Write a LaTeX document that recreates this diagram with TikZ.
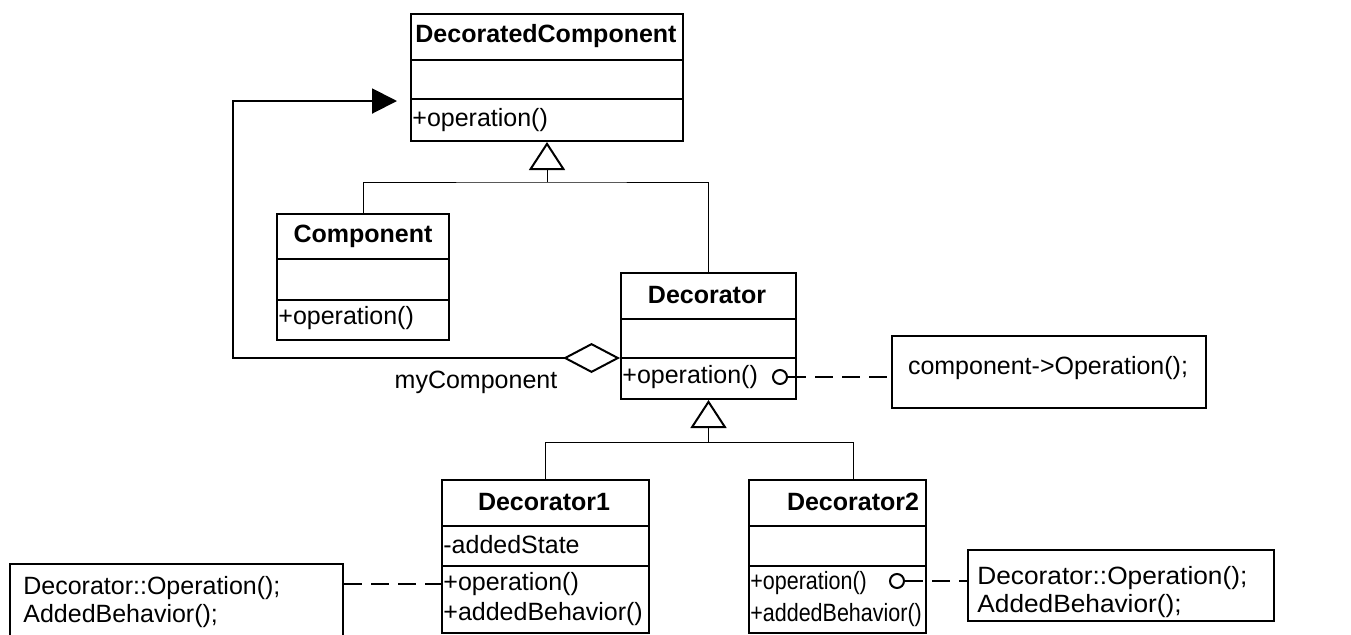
\documentclass[tikz,border=0pt]{standalone}
\usepackage{fontspec}
\setmainfont{Liberation Sans}
\usetikzlibrary{arrows.meta}

\begin{document}
\begin{tikzpicture}[x=0.5pt, y=-0.5pt,
        every node/.style={font=\fontsize{12.5}{15}\selectfont},
        classbox/.style={draw, line width=1pt, anchor=north west, inner sep=0pt},
        notebox/.style={draw, line width=1pt, anchor=north west, inner sep=0pt},
        title/.style={font=\fontsize{12.5}{15}\selectfont\bfseries, inner sep=0pt},
        member/.style={anchor=west, inner sep=0pt},
        squeezed/.style={member, xscale=0.86, transform shape},
        link/.style={line width=0.5pt},
        notelink/.style={line width=1pt, dash pattern=on 9pt off 4.5pt},
        lolli/.style={circle, draw, line width=1pt, minimum size=7pt, inner sep=0pt}] %decorator
            \useasboundingbox (0,0) rectangle (1351,634);
            \clip (0,0) rectangle (1351,634);

            % classes
            \node[classbox, minimum width=136pt, minimum height=63.5pt] (dcomp) at (410,13) {};
            \node[classbox, minimum width=86pt, minimum height=63pt] (comp) at (276,213) {};
            \node[classbox, minimum width=87.5pt, minimum height=63pt] (deco) at (620,272) {};
            \node[classbox, minimum width=103.5pt, minimum height=76.5pt] (d1) at (441,479) {};
            \node[classbox, minimum width=88.5pt, minimum height=76.5pt] (d2) at (748,479) {};

            \foreach \cls/\ya/\yb in {dcomp/60/99, comp/259/300, deco/319/358, d1/526/566, d2/526/566} {
                \draw[line width=1pt] (\cls.west |- 0,\ya) -- (\cls.east |- 0,\ya);
                \draw[line width=1pt] (\cls.west |- 0,\yb) -- (\cls.east |- 0,\yb);
            }

            \node[title] (dcomptitle) at (546,36) {DecoratedComponent};
            \node[member] (dcompop) at (412,120) {+operation()};

            \node[title] (comptitle) at (363,236) {Component};
            \node[member] (compop) at (278,318) {+operation()};

            \node[title] (decotitle) at (707,295) {Decorator};
            \node[member] (decoop) at (622,377) {+operation()};

            \node[title] (d1title) at (544,502) {Decorator1};
            \node[member] (d1state) at (443,545) {-addedState};
            \node[member] (d1op) at (443,584) {+operation()};
            \node[member] (d1beh) at (443,614) {+addedBehavior()};

            \node[title] (d2title) at (853,502) {Decorator2};
            \node[squeezed] (d2op) at (750,583) {+operation()};
            \node[squeezed] (d2beh) at (750,615) {+addedBehavior()};

            % notes
            \node[notebox, minimum width=157pt, minimum height=36pt] (note1) at (891,335) {};
            \node (note1text) at (1048,368) {component->Operation();};
            \node[notebox, minimum width=166.5pt, minimum height=48.5pt] (note2) at (9,563) {};
            \node[member] (note2a) at (23,588) {Decorator::Operation();};
            \node[member] (note2b) at (23,616) {AddedBehavior();};
            \node[notebox, minimum width=153pt, minimum height=35.5pt] (note3) at (967,549) {};
            \node[member, xscale=1.05, transform shape] (note3a) at (977,578) {Decorator::Operation();};
            \node[member, xscale=1.05, transform shape] (note3b) at (977,606) {AddedBehavior();};

            % generalisation
            \coordinate (tophub) at (dcomp.south |- 0,182);
            \draw[link] (comp.north) |- (tophub) -| (deco.north);
            \draw[link, -{Triangle[open, length=14pt, width=18pt, line width=1pt]}] (tophub) -- (dcomp.south);

            \coordinate (bothub) at (deco.south |- 0,442);
            \draw[link] (d1.north) |- (bothub) -| (d2title |- d2.north);
            \draw[link, -{Triangle[open, length=14pt, width=18pt, line width=1pt]}] (bothub) -- (deco.south);

            % aggregation
            \coordinate (aggstart) at (deco.west |- 0,358);
            \coordinate (loopleft) at (233,358);
            \coordinate (loopend) at (397,101);
            \draw[line width=1pt, {Diamond[open, length=28.5pt, width=15pt]}-{Triangle[length=12.5pt, width=12.5pt]}] (aggstart) -- (loopleft) |- (loopend);
            \node (rolelabel) at (476,382) {myComponent};

            % note links
            \node[lolli] (decodot) at (780,377) {};
            \node[lolli] (d2dot) at (897,581) {};
            \draw[notelink] (decodot) -- (decodot -| note1.west);
            \draw[notelink] (note2.east |- d1op) -- (d1op -| d1.west);
            \draw[notelink] (d2dot) -- (d2dot -| note3.west);
        \end{tikzpicture}
\end{document}
